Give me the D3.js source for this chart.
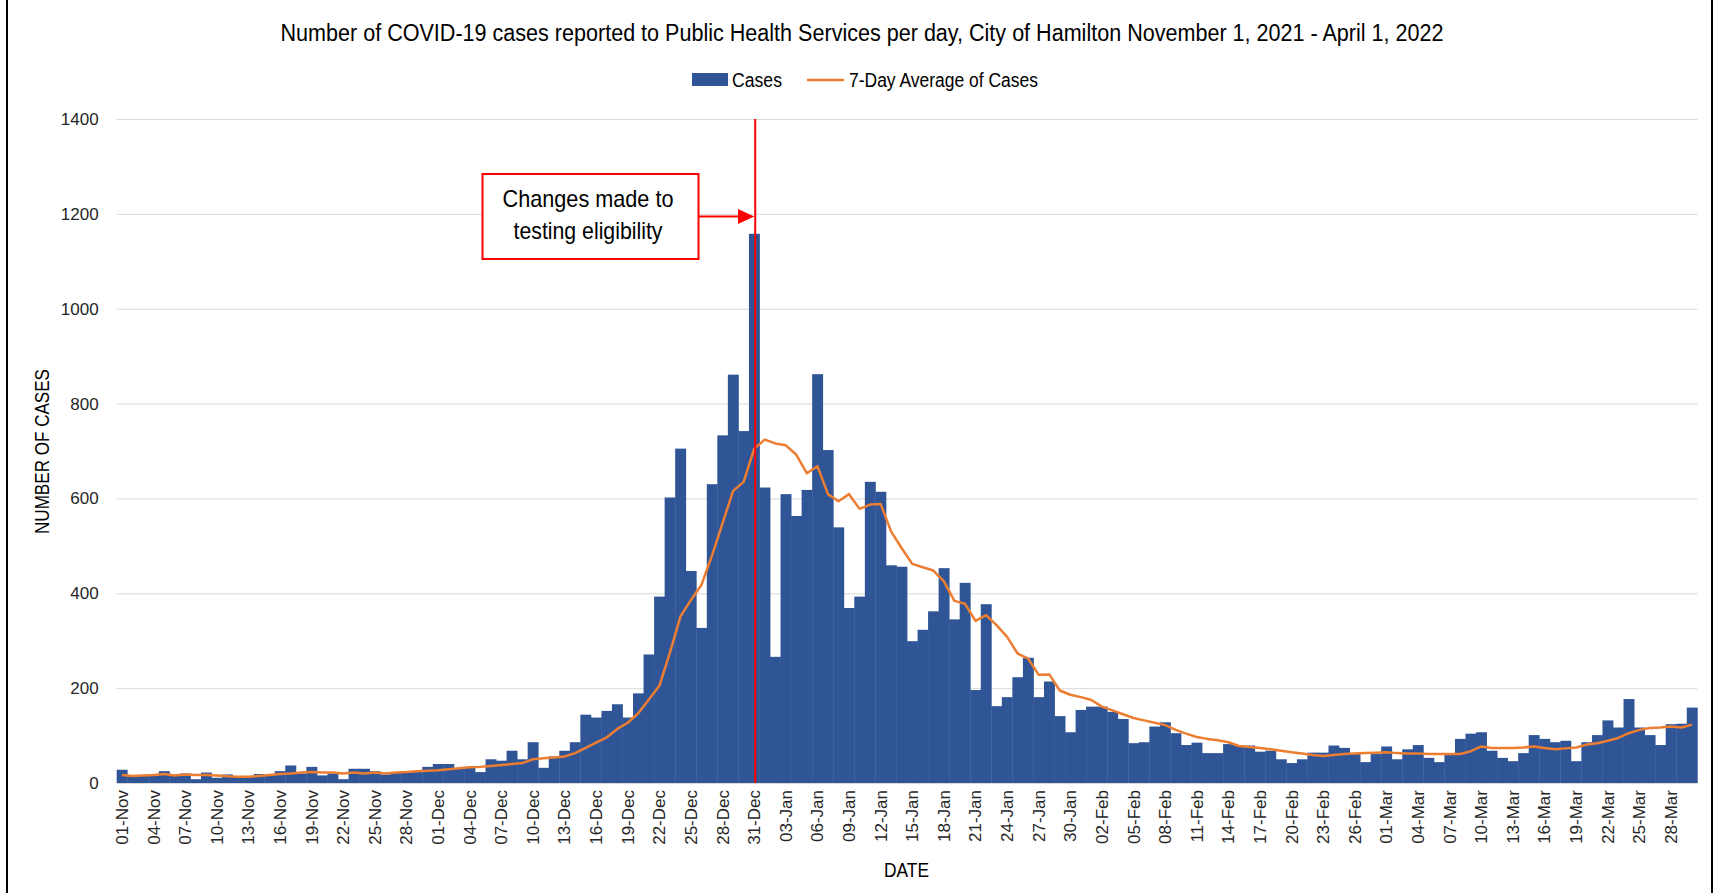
<!DOCTYPE html>
<html>
<head>
<meta charset="utf-8">
<script src="https://cdn.jsdelivr.net/npm/d3@7"></script>
<style>
  body { margin: 0; background: #fff; }
  svg { display: block; }
  .narrow {
    font-family: 'Liberation Sans Narrow', 'Arial Narrow', 'Liberation Sans', Arial, sans-serif;
    fill: #000;
  }
  .axis text {
    font-family: 'Liberation Sans', Arial, sans-serif;
    font-size: 17px;
    fill: #262626;
  }
  .axis .domain { display: none; }
  .y.axis line { stroke: #d9d9d9; }
</style>
</head>
<body>
<script>
// Width and height
const w = 1715;
const h = 893;

// Plot area
const plot = { left: 116.7, right: 1697.3, top: 119, bottom: 783 };

// Categories: one per day, 01-Nov-2021 to 30-Mar-2022
const days = d3.timeDay.range(new Date(2021, 10, 1), new Date(2022, 2, 31));
const formatDay = d3.timeFormat('%d-%b');
const dates = days.map(formatDay);

// Every third day gets a label
const tickLabels = dates.filter((d, i) => i % 3 === 0);
const yTicks = [0, 200, 400, 600, 800, 1000, 1200, 1400];

// Daily cases
const cases = [
  28, 16, 16, 16, 25, 18, 20, 8, 22, 11,
  18, 13, 13, 19, 17, 25, 37, 20, 34, 16,
  20, 8, 30, 30, 25, 18, 22, 23, 25, 34,
  40, 40, 31, 34, 23, 50, 47, 68, 50, 86,
  32, 56, 68, 86, 144, 138, 152, 166, 138, 189,
  271, 393, 602, 705, 447, 327, 630, 733, 861, 742,
  1158, 623, 266, 609, 563, 618, 862, 702, 539, 369,
  393, 635, 614, 459, 456, 299, 323, 362, 453, 345,
  422, 196, 377, 162, 181, 223, 264, 181, 214, 141,
  107, 154, 161, 161, 150, 135, 84, 86, 119, 128,
  105, 80, 85, 63, 63, 82, 79, 79, 66, 68,
  50, 42, 50, 64, 64, 79, 74, 61, 44, 61,
  77, 50, 71, 80, 53, 44, 59, 93, 104, 107,
  68, 53, 46, 63, 101, 93, 86, 89, 46, 86,
  101, 132, 117, 177, 117, 101, 80, 124, 125, 159
];

// 7-day average of cases
const avgCases = [
  17, 15, 16, 17, 19, 16, 18, 17, 17, 16,
  14, 13, 13, 15, 17, 19, 20, 22, 23, 22,
  22, 20, 22, 20, 22, 20, 22, 23, 25, 26,
  27, 29, 31, 33, 34, 36, 38, 40, 42, 50,
  52, 54, 56, 63, 74, 85, 96, 114, 127, 147,
  176, 205, 275, 351, 386, 418, 480, 548, 616, 635,
  705, 724, 716, 712, 692, 653, 668, 609, 594, 609,
  578, 587, 588, 530, 495, 462, 455, 448, 425, 384,
  378, 342, 354, 333, 308, 273, 262, 228, 229, 195,
  186, 181, 175, 161, 153, 145, 137, 132, 127, 122,
  112, 104, 97, 93, 90, 86, 78, 76, 74, 71,
  68, 65, 62, 59, 57, 59, 61, 62, 63, 64,
  65, 63, 62, 62, 61, 61, 61, 61, 67, 77,
  74, 74, 74, 75, 77, 74, 71, 73, 75, 81,
  84, 89, 95, 105, 112, 116, 117, 119, 117, 123
];

// Date when testing eligibility changed
const markerDate = '31-Dec';

const barColor = '#2f5597';
const lineColor = '#ed7d31';
const red = '#ff0000';

// Scales
const x = d3
  .scaleBand()
  .domain(dates)
  .range([plot.left, plot.right])
  .padding(0);

const y = d3
  .scaleLinear()
  .domain([0, 1400])
  .range([plot.bottom, plot.top]);

// Create SVG element
const svg = d3
  .select('body')
  .append('svg')
  .attr('width', w)
  .attr('height', h);

// Frame lines at left and right
svg.append('line')
  .attr('x1', 7).attr('x2', 7).attr('y1', 0).attr('y2', h)
  .attr('stroke', '#000').attr('stroke-width', 2);
svg.append('line')
  .attr('x1', 1712).attr('x2', 1712).attr('y1', 0).attr('y2', h)
  .attr('stroke', '#000').attr('stroke-width', 2);

// Y axis with gridlines
svg
  .append('g')
  .attr('class', 'y axis')
  .attr('transform', `translate(${plot.left},0)`)
  .call(
    d3.axisLeft(y)
      .tickValues(yTicks)
      .tickSize(-(plot.right - plot.left))
      .tickPadding(18)
      .tickFormat(d3.format('d'))
  );

// Bars
svg
  .append('g')
  .selectAll('rect')
  .data(cases)
  .enter()
  .append('rect')
  .attr('x', (d, i) => x(dates[i]))
  .attr('y', d => y(d))
  .attr('width', x.bandwidth() + 0.4)
  .attr('height', d => y(0) - y(d))
  .attr('fill', barColor);

// X axis, labels rotated
svg
  .append('g')
  .attr('class', 'x axis')
  .attr('transform', `translate(0,${plot.bottom})`)
  .call(d3.axisBottom(x).tickValues(tickLabels).tickSize(0))
  .selectAll('text')
  .attr('transform', 'rotate(-90)')
  .attr('text-anchor', 'end')
  .attr('x', -7)
  .attr('y', 0)
  .attr('dy', '.35em');

// 7-day average line
const line = d3
  .line()
  .x((d, i) => x(dates[i]) + x.bandwidth() / 2)
  .y(d => y(d));

svg
  .append('path')
  .datum(avgCases)
  .attr('d', line)
  .attr('fill', 'none')
  .attr('stroke', lineColor)
  .attr('stroke-width', 2.5)
  .attr('stroke-linejoin', 'round');

// Red marker line
const markerX = x(markerDate) + x.bandwidth() / 2 + 1;
svg
  .append('line')
  .attr('x1', markerX)
  .attr('x2', markerX)
  .attr('y1', plot.top)
  .attr('y2', plot.bottom)
  .attr('stroke', red)
  .attr('stroke-width', 2);

// Annotation box and arrow
const note = svg.append('g');
note
  .append('rect')
  .attr('x', 482.5)
  .attr('y', 174)
  .attr('width', 216)
  .attr('height', 85)
  .attr('fill', '#fff')
  .attr('stroke', red)
  .attr('stroke-width', 2);
note
  .append('text')
  .attr('class', 'narrow')
  .attr('x', 588)
  .attr('y', 207)
  .attr('text-anchor', 'middle')
  .attr('font-size', 24)
  .attr('textLength', 171)
  .attr('lengthAdjust', 'spacingAndGlyphs')
  .text('Changes made to');
note
  .append('text')
  .attr('class', 'narrow')
  .attr('x', 588)
  .attr('y', 239)
  .attr('text-anchor', 'middle')
  .attr('font-size', 24)
  .attr('textLength', 149)
  .attr('lengthAdjust', 'spacingAndGlyphs')
  .text('testing  eligibility');
note
  .append('line')
  .attr('x1', 698.5)
  .attr('x2', 740)
  .attr('y1', 216.5)
  .attr('y2', 216.5)
  .attr('stroke', red)
  .attr('stroke-width', 2);
note
  .append('path')
  .attr('d', `M738,209L${markerX - 1},216.5L738,224Z`)
  .attr('fill', red);

// Title
svg
  .append('text')
  .attr('class', 'narrow')
  .attr('x', 862)
  .attr('y', 41)
  .attr('text-anchor', 'middle')
  .attr('font-size', 23)
  .attr('textLength', 1163)
  .attr('lengthAdjust', 'spacingAndGlyphs')
  .text('Number of COVID-19 cases reported to Public Health Services per day, City of Hamilton November 1, 2021 - April 1, 2022');

// Legend
const legend = svg.append('g');
legend
  .append('rect')
  .attr('x', 692)
  .attr('y', 73)
  .attr('width', 36)
  .attr('height', 13)
  .attr('fill', barColor);
legend
  .append('text')
  .attr('class', 'narrow')
  .attr('x', 732)
  .attr('y', 87)
  .attr('font-size', 20)
  .attr('textLength', 50)
  .attr('lengthAdjust', 'spacingAndGlyphs')
  .text('Cases');
legend
  .append('line')
  .attr('x1', 807)
  .attr('x2', 844)
  .attr('y1', 80)
  .attr('y2', 80)
  .attr('stroke', lineColor)
  .attr('stroke-width', 2.5);
legend
  .append('text')
  .attr('class', 'narrow')
  .attr('x', 849)
  .attr('y', 87)
  .attr('font-size', 20)
  .attr('textLength', 189)
  .attr('lengthAdjust', 'spacingAndGlyphs')
  .text('7-Day Average of Cases');

// Axis titles
svg
  .append('text')
  .attr('class', 'narrow')
  .attr('transform', 'translate(49,451.5) rotate(-90)')
  .attr('text-anchor', 'middle')
  .attr('font-size', 20)
  .attr('textLength', 165)
  .attr('lengthAdjust', 'spacingAndGlyphs')
  .text('NUMBER OF CASES');

svg
  .append('text')
  .attr('class', 'narrow')
  .attr('x', 906.5)
  .attr('y', 877)
  .attr('text-anchor', 'middle')
  .attr('font-size', 20)
  .attr('textLength', 45)
  .attr('lengthAdjust', 'spacingAndGlyphs')
  .text('DATE');
</script>
</body>
</html>
